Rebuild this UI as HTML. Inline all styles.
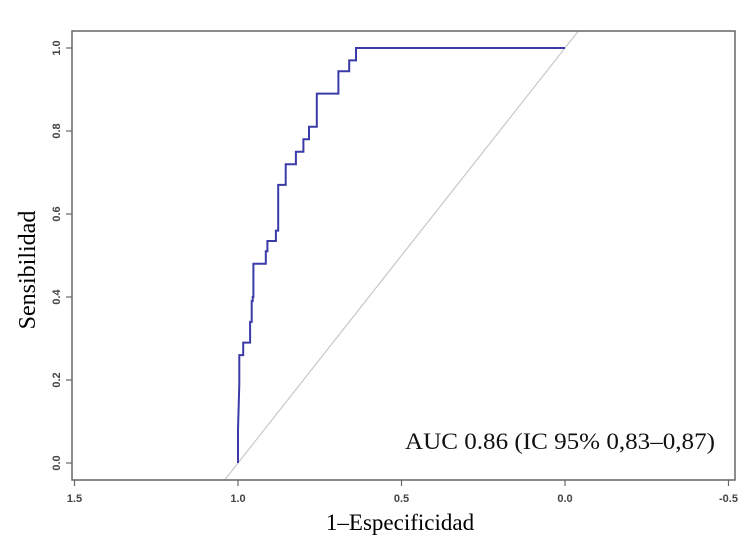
<!DOCTYPE html>
<html><head><meta charset="utf-8"><style>
body{margin:0;background:#fff;}
svg{display:block;}
</style></head><body>
<svg id="chart" width="750" height="557" viewBox="0 0 750 557" xmlns="http://www.w3.org/2000/svg">
<rect x="0" y="0" width="750" height="557" fill="#fff"/>
<g id="plot"></g>
</svg>
<script>
const specificity=[1.0,1.0,0.996,0.996,0.984,0.984,0.963,0.963,0.958,0.958,0.955,0.955,0.953,0.953,0.915,0.915,0.910,0.910,0.884,0.884,0.877,0.877,0.854,0.854,0.823,0.823,0.800,0.800,0.783,0.783,0.759,0.759,0.693,0.693,0.660,0.660,0.639,0.639,0.0];
const sensitivity=[0.0,0.08,0.19,0.26,0.26,0.29,0.29,0.34,0.34,0.39,0.39,0.40,0.40,0.48,0.48,0.51,0.51,0.535,0.535,0.56,0.56,0.67,0.67,0.72,0.72,0.75,0.75,0.78,0.78,0.81,0.81,0.89,0.89,0.944,0.944,0.97,0.97,1.0,1.0];
const xTicks=[1.5,1.0,0.5,0.0,-0.5];
const xTickLabels=["1.5","1.0","0.5","0.0","-0.5"];
const yTicks=[0,0.2,0.4,0.6,0.8,1.0];
const yTickLabels=["0.0","0.2","0.4","0.6","0.8","1.0"];

const NS="http://www.w3.org/2000/svg";
const g=document.getElementById('plot');
const L=72,R=735,T=31,B=480;
function xs(v){return 238+(1-v)*327;}
function ys(v){return 463-v*415;}
function mk(tag,attrs,parent){const e=document.createElementNS(NS,tag);for(const k in attrs)e.setAttribute(k,attrs[k]);(parent||g).appendChild(e);return e;}

const defs=mk('defs',{});
const cp=mk('clipPath',{id:'clip'},defs);
mk('rect',{x:L,y:T,width:R-L,height:B-T},cp);

const diag=mk('line',{x1:xs(1.1),y1:ys(-0.1),x2:xs(-0.2),y2:ys(1.2),stroke:'#c8c8c8','stroke-width':1.2,'clip-path':'url(#clip)'});



let d='';
for(let i=0;i<specificity.length;i++){d+=(i?'L':'M')+xs(specificity[i]).toFixed(1)+' '+ys(sensitivity[i]).toFixed(1)+' ';}
const curve=mk('path',{d:d,fill:'none',stroke:'#3a3aa8','stroke-width':2});



const box=mk('rect',{x:L,y:T,width:R-L,height:B-T,fill:'none',stroke:'#666','stroke-width':1.5});



xTicks.forEach((v,i)=>{
  const t=mk('line',{x1:xs(v),y1:B,x2:xs(v),y2:B+6,stroke:'#666','stroke-width':1.2});
  
  
  const tx=mk('text',{x:xs(v),y:B+22,'text-anchor':'middle','font-family':'Liberation Sans Narrow, Liberation Sans, sans-serif','font-size':11,'font-weight':'bold',fill:'#444'});
  tx.textContent=xTickLabels[i];
  
  
});
yTicks.forEach((v,i)=>{
  const t=mk('line',{x1:L-6,y1:ys(v),x2:L,y2:ys(v),stroke:'#666','stroke-width':1.2});
  
  
  const tx=mk('text',{x:0,y:0,'text-anchor':'middle','font-family':'Liberation Sans, sans-serif','font-size':11,'font-weight':'bold',fill:'#444',transform:'translate(60,'+ys(v)+') rotate(-90)'});
  tx.textContent=yTickLabels[i];
  
  
});
const xt=mk('text',{x:400,y:530,'text-anchor':'middle','font-family':'Liberation Serif, serif','font-size':23,fill:'#000'});
xt.textContent='1–Especificidad';


const yt=mk('text',{x:0,y:0,'text-anchor':'middle','font-family':'Liberation Serif, serif','font-size':24,fill:'#000',transform:'translate(35,270) rotate(-90)'});
yt.textContent='Sensibilidad';


const auc=mk('text',{x:405,y:449,'font-family':'Liberation Serif, serif','font-size':23,fill:'#111',textLength:310,lengthAdjust:'spacingAndGlyphs'});
auc.textContent='AUC 0.86 (IC 95% 0,83–0,87)';


</script>
</body></html>
